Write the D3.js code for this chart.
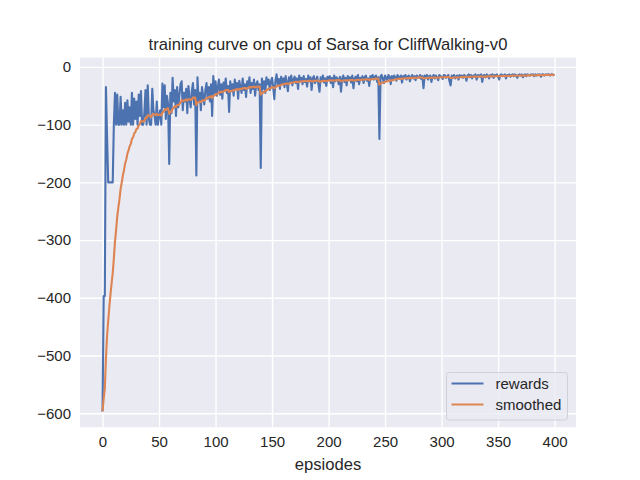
<!DOCTYPE html>
<html>
<head>
<meta charset="utf-8">
<script src="https://cdn.jsdelivr.net/npm/d3@7"></script>
<style>
  body { margin: 0; background: #fff; }
  text { font-family: "Liberation Sans", Arial, sans-serif; fill: #262626; }
</style>
</head>
<body>
<div class="chart"></div>
<script>
// figure setup (640x480, matplotlib-like subplot params)
var width = 640;
var height = 480;
var plot = { left: 80, top: 57.6, right: 576, bottom: 427.2 };

// episode rewards, one row per 20 episodes
var rewards = [
  -595, -397, -397, -35, -120, -200, -200, -200, -200, -200, -100, -45, -100, -48, -100, -100, -52, -100, -75, -100,
  -62, -100, -58, -95, -70, -100, -45, -100, -55, -90, -60, -100, -48, -85, -42, -100, -100, -80, -40, -100,
  -32, -90, -100, -100, -38, -75, -85, -100, -60, -100, -85, -75, -100, -29, -70, -32, -90, -50, -65, -168,
  -45, -80, -19, -60, -40, -85, -35, -70, -50, -30, -25, -75, -45, -60, -38, -80, -33, -55, -70, -42,
  -28, -65, -40, -188, -18, -60, -45, -75, -35, -50, -65, -40, -28, -55, -35, -60, -30, -85, -16, -45,
  -25, -50, -35, -22, -48, -30, -55, -27, -40, -20, -45, -33, -78, -25, -42, -30, -50, -22, -38, -28,
  -55, -24, -35, -45, -20, -40, -30, -52, -25, -35, -18, -45, -28, -38, -22, -50, -30, -25, -40, -30,
  -175, -20, -38, -25, -45, -18, -30, -22, -40, -26, -19, -35, -56, -24, -13, -30, -21, -38, -17, -28,
  -20, -35, -16, -27, -42, -18, -25, -15, -32, -22, -17, -28, -20, -38, -15, -24, -19, -30, -16, -26,
  -21, -34, -15, -25, -18, -40, -20, -16, -28, -22, -17, -30, -43, -18, -24, -15, -27, -20, -33, -17,
  -22, -16, -28, -19, -35, -15, -25, -18, -21, -30, -17, -43, -20, -15, -26, -19, -32, -16, -22, -18,
  -27, -15, -37, -20, -17, -25, -14, -30, -19, -22, -16, -28, -18, -15, -24, -20, -33, -16, -19, -14,
  -22, -17, -15, -26, -18, -125, -16, -14, -20, -28, -15, -19, -23, -14, -17, -30, -16, -21, -15, -18,
  -24, -14, -17, -20, -15, -27, -16, -19, -14, -22, -17, -15, -25, -18, -14, -20, -16, -23, -15, -17,
  -19, -14, -21, -16, -37, -15, -18, -14, -22, -16, -15, -26, -17, -14, -20, -15, -18, -23, -14, -16,
  -17, -21, -14, -15, -19, -16, -14, -25, -32, -15, -18, -14, -20, -16, -15, -22, -14, -17, -15, -19,
  -14, -16, -24, -15, -13, -18, -14, -20, -15, -16, -13, -22, -15, -14, -17, -13, -26, -15, -14, -18,
  -13, -15, -20, -14, -16, -13, -19, -14, -15, -13, -17, -22, -14, -13, -16, -15, -13, -20, -14, -15,
  -13, -17, -14, -13, -16, -13, -15, -19, -14, -13, -15, -13, -18, -14, -13, -16, -13, -14, -15, -13,
  -14, -13, -16, -13, -15, -13, -14, -13, -17, -13, -13, -15, -13, -14, -13, -13, -15, -13, -13, -14
];
var episodes = rewards.map((d, i) => i);

// smoothed curve: moving average the training script plots (weight 0.9)
var smoothWeight = 0.9;
var smoothed = [];
rewards.forEach((r, i) => {
  smoothed.push(i === 0 ? r : smoothed[i - 1] * smoothWeight + r * (1 - smoothWeight));
});

var xTicks = [0, 50, 100, 150, 200, 250, 300, 350, 400];
var yTicks = [0, -100, -200, -300, -400, -500, -600];
var seriesNames = ["rewards", "smoothed"];
var seriesColors = ["#4C72B0", "#DD8452"];

var title = "training curve on cpu of Sarsa for CliffWalking-v0";
var xLabel = "epsiodes";

const svg = d3.select(".chart")
              .append("svg")
              .attr("width", width)
              .attr("height", height);

// 5% margins like matplotlib autoscale
var xExt = d3.extent(episodes);
var yExt = d3.extent(rewards.concat(smoothed));
var xPad = (xExt[1] - xExt[0]) * 0.05;
var yPad = (yExt[1] - yExt[0]) * 0.05;

const xScale = d3.scaleLinear()
                 .domain([xExt[0] - xPad, xExt[1] + xPad])
                 .range([plot.left, plot.right]);
const yScale = d3.scaleLinear()
                 .domain([yExt[0] - yPad, yExt[1] + yPad])
                 .range([plot.bottom, plot.top]);

// background
svg.append("rect")
   .attr("x", plot.left)
   .attr("y", plot.top)
   .attr("width", plot.right - plot.left)
   .attr("height", plot.bottom - plot.top)
   .attr("fill", "#EAEAF2");

// grid
const xAxis = d3.axisBottom(xScale)
                .tickValues(xTicks)
                .tickSize(-(plot.bottom - plot.top))
                .tickPadding(9)
                .tickFormat(d3.format("d"));
const yAxis = d3.axisLeft(yScale)
                .tickValues(yTicks)
                .tickSize(-(plot.right - plot.left))
                .tickPadding(9)
                .tickFormat(d => d < 0 ? "\u2212" + Math.abs(d) : d);

var gx = svg.append("g")
   .attr("id", "x-axis")
   .attr("transform", "translate(0," + plot.bottom + ")")
   .call(xAxis);
var gy = svg.append("g")
   .attr("id", "y-axis")
   .attr("transform", "translate(" + plot.left + ",0)")
   .call(yAxis);

[gx, gy].forEach(g => {
  g.select(".domain").remove();
  g.selectAll(".tick line")
   .attr("stroke", "#fff")
   .attr("stroke-width", 1.4);
  g.selectAll(".tick text")
   .style("font-size", "15px")
   .attr("fill", "#262626");
});
gx.selectAll(".tick text").attr("dy", "0.71em");

// lines
const line = d3.line()
               .x((d, i) => xScale(episodes[i]))
               .y(d => yScale(d));

[rewards, smoothed].forEach((s, k) => {
  svg.append("path")
     .datum(s)
     .attr("fill", "none")
     .attr("stroke", seriesColors[k])
     .attr("stroke-width", 2.1)
     .attr("stroke-linejoin", "round")
     .attr("stroke-linecap", "square")
     .attr("d", line);
});

// title + label
svg.append("text")
   .attr("x", (plot.left + plot.right) / 2)
   .attr("y", 49.5)
   .attr("text-anchor", "middle")
   .style("font-size", "16.6px")
   .text(title);

svg.append("text")
   .attr("x", (plot.left + plot.right) / 2)
   .attr("y", 470)
   .attr("text-anchor", "middle")
   .style("font-size", "16.6px")
   .text(xLabel);

// legend
var legend = svg.append("g")
   .attr("id", "legend")
   .attr("transform", "translate(446.5,372.5)");

legend.append("rect")
      .attr("width", 121)
      .attr("height", 47.5)
      .attr("rx", 3)
      .attr("fill", "#EAEAF2")
      .attr("fill-opacity", 0.8)
      .attr("stroke", "#d0d0d8")
      .attr("stroke-width", 1);

seriesNames.forEach((name, i) => {
  legend.append("line")
        .attr("x1", 5)
        .attr("x2", 37)
        .attr("y1", 11 + i * 21)
        .attr("y2", 11 + i * 21)
        .attr("stroke", seriesColors[i])
        .attr("stroke-width", 2.1);
  legend.append("text")
        .attr("x", 49)
        .attr("y", 11 + i * 21)
        .attr("dy", "0.35em")
        .style("font-size", "15px")
        .text(name);
});
</script>
</body>
</html>
